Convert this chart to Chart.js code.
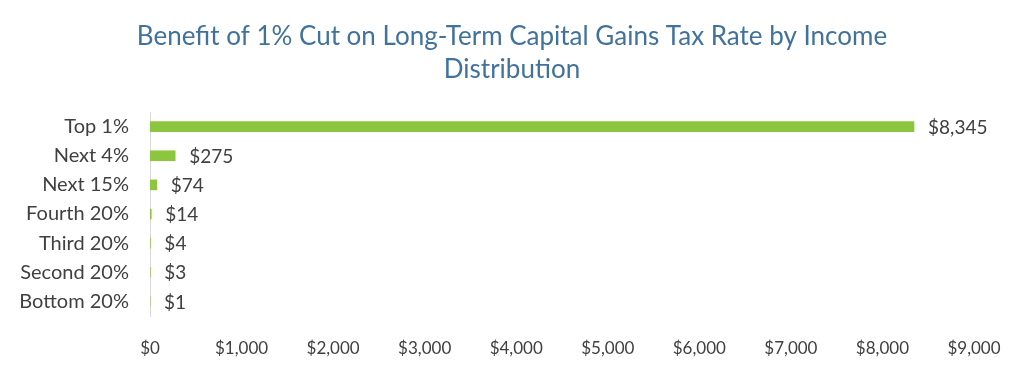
<!DOCTYPE html>
<html>
<head>
<meta charset="utf-8">
<script src="https://cdn.jsdelivr.net/npm/chart.js@4"></script>
<style>
  html, body { margin: 0; padding: 0; background: #fff; }
  #wrap { width: 1024px; height: 369px; }
</style>
</head>
<body>
<div id="wrap"><canvas id="chart" width="1024" height="369"></canvas></div>
<script>
const categories = ['Top 1%', 'Next 4%', 'Next 15%', 'Fourth 20%', 'Third 20%', 'Second 20%', 'Bottom 20%'];
const benefit = [8345, 275, 74, 14, 4, 3, 1];
const titleLines = ['Benefit of 1% Cut on Long-Term Capital Gains Tax Rate by Income', 'Distribution'];

const FONT = "Lato, 'Open Sans', sans-serif";
const money = v => '$' + Number(v).toLocaleString('en-US');

// draws "$x" next to the end of each bar
const barLabels = {
  id: 'barLabels',
  afterDatasetsDraw(chart) {
    const ctx = chart.ctx;
    const meta = chart.getDatasetMeta(0);
    ctx.save();
    ctx.font = '19px ' + FONT;
    ctx.fillStyle = '#404040';
    ctx.textAlign = 'left';
    ctx.textBaseline = 'middle';
    meta.data.forEach((bar, i) => {
      ctx.fillText(money(benefit[i]), bar.x + 14, bar.y + 1);
    });
    ctx.restore();
  }
};

new Chart(document.getElementById('chart').getContext('2d'), {
  type: 'bar',
  data: {
    labels: categories,
    datasets: [{
      data: benefit,
      backgroundColor: '#8cc63f',
      barThickness: 10
    }]
  },
  options: {
    indexAxis: 'y',
    responsive: false,
    animation: false,
    layout: { padding: { left: 0, right: 0, top: 0, bottom: 8 } },
    plugins: {
      legend: { display: false },
      tooltip: { enabled: false },
      title: {
        display: true,
        text: titleLines,
        color: '#41729c',
        font: { family: FONT, size: 26, weight: 'normal', lineHeight: 1.27 },
        padding: { top: 20, bottom: 26 }
      }
    },
    scales: {
      x: {
        min: 0,
        max: 9000,
        ticks: {
          stepSize: 1000,
          callback: v => money(v),
          color: '#404040',
          font: { family: FONT, size: 17 },
          maxRotation: 0,
          padding: 14
        },
        grid: { display: false },
        border: { display: false },
        afterFit: s => { s.height = 45; }
      },
      y: {
        ticks: {
          color: '#404040',
          font: { family: FONT, size: 20 },
          padding: 13
        },
        grid: { display: false },
        border: { display: true, color: '#d9d9d9', width: 1 },
        afterFit: s => { s.width = 150; }
      },
      // empty right-hand margin so the title stays centred on the page
      yRight: {
        position: 'right',
        ticks: { display: false },
        grid: { display: false },
        border: { display: false },
        afterFit: s => { s.width = 50; }
      }
    }
  },
  plugins: [barLabels]
});
</script>
</body>
</html>
